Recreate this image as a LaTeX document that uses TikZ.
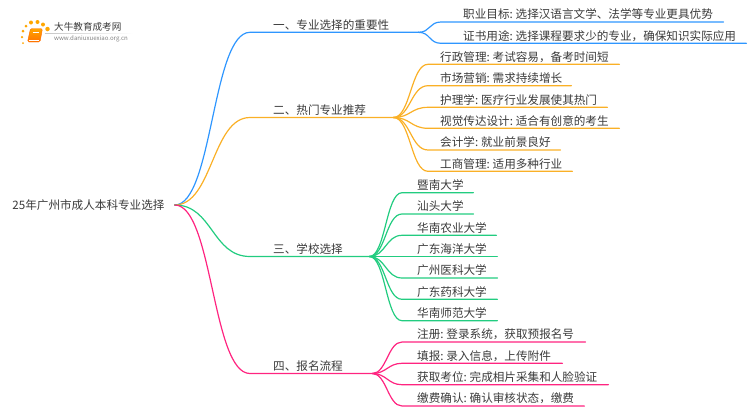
\documentclass[tikz,border=0pt]{standalone}
\usepackage{fontspec}
\setmainfont{Noto Sans CJK SC}
\usepackage{tikz}
\definecolor{branchblue}{HTML}{2E96FF}
\definecolor{branchorange}{HTML}{FAB026}
\definecolor{branchgreen}{HTML}{22CC80}
\definecolor{branchpink}{HTML}{FF2480}
\definecolor{inktext}{HTML}{3A3A3A}
\newcommand{\tightspace}{\spaceskip=2pt\relax}
\tikzset{
  rootnode/.style={font=\fontsize{11.6pt}{14pt}\selectfont,text=inktext,inner xsep=10pt,inner ysep=0pt,
    text height=10pt,text depth=1.2pt},
  topicnode/.style={anchor=south west,font=\fontsize{11.6pt}{14pt}\selectfont,text=inktext,inner sep=0pt,
    text height=10pt,text depth=3pt,align=flush left,text width=#1,execute at begin node=\tightspace},
  topicnode/.default=100pt,
  conn/.style={line width=1.2pt,line cap=round},
  dot/.style={circle,fill=#1,inner sep=0pt,minimum size=4pt},
}
\begin{document}
\begin{tikzpicture}[x=1pt,y=-1pt]
\useasboundingbox (0,0) rectangle (750,410);

% Logo in the corner
\shade[left color=gray!45,right color=white] (45,33) rectangle (133,33.6);
\node[dot=orange!70!yellow,minimum size=2pt] (d1) at (23,43) {};
\node[dot=orange!70!yellow,minimum size=2.5pt] (d2) at (22,37) {};
\node[dot=orange!70!yellow,minimum size=3pt] (d3) at (23,31) {};
\node[dot=orange!70!yellow,minimum size=3pt] (d4) at (26,26) {};
\node[dot=orange!70!yellow] (d5) at (31,22.5) {};
\node[dot=orange!70!yellow] (d6) at (37.5,22) {};
\node[dot=orange!70!yellow] (d7) at (43,24.5) {};
\node[dot=orange!70!yellow,minimum size=4.5pt] (d8) at (47.5,29) {};
\draw[rounded corners=1.5pt,draw=orange!85!red,top color=orange!70!yellow,bottom color=orange!90!red] (30.5,28.5) -- (42.5,28.5) -- (40,42) -- (27.5,42) -- cycle;
\draw[white,line width=0.6pt] (32.5,32) -- (39,32);
\draw[white,line width=0.6pt] (28.8,40) -- (38.5,40);
\node[font=\fontsize{9.6pt}{11pt}\selectfont,text=inktext,inner sep=0pt,anchor=west] (logotitle) at (54,27) {大牛教育成考网};
\node[font=\fontsize{6.1pt}{8pt}\selectfont,text=gray,inner sep=0pt,anchor=west] (logourl) at (54,38.7) {www.daniuxuexiao.org.cn};

% Root
\node[rootnode] (root) at (88.5,205) {25年广州市成人本科专业选择};

% Topics
\node[topicnode=168pt] (topica) at (250,32.3) {\hspace*{23pt}一、专业选择的重要性};
\node[topicnode=143pt] (topicb) at (250,117.5) {\hspace*{23pt}二、热门专业推荐};
\node[topicnode=119pt] (topicc) at (250,256.5) {\hspace*{23pt}三、学校选择};
\node[topicnode=122pt] (topicd) at (250,373.5) {\hspace*{23pt}四、报名流程};

% Root to topics
\draw[conn,branchblue] (root.east) .. controls +(38,0) and +(-38,0) .. (topica.south west) -- (topica.south east);
\draw[conn,branchorange] (root.east) .. controls +(38,0) and +(-38,0) .. (topicb.south west) -- (topicb.south east);
\draw[conn,branchgreen] (root.east) .. controls +(38,0) and +(-38,0) .. (topicc.south west) -- (topicc.south east);
\draw[conn,branchpink] (root.east) .. controls +(38,0) and +(-38,0) .. (topicd.south west) -- (topicd.south east);

% Topic one
\node[topicnode=282pt] (goal) at (441,22) {\hspace*{22pt}职业目标: 选择汉语言文学、法学等专业更具优势};
\node[topicnode=305pt] (cert) at (441,43.3) {\hspace*{22pt}证书用途: 选择课程要求少的专业，确保知识实际应用};
\draw[conn,branchblue] (topica.south east) .. controls +(12,0) and +(-12,0) .. (goal.south west) -- (goal.south east);
\draw[conn,branchblue] (topica.south east) .. controls +(12,0) and +(-12,0) .. (cert.south west) -- (cert.south east);

% Topic two
\node[topicnode=191pt] (admin) at (428,64.3) {\hspace*{12pt}行政管理: 考试容易，备考时间短};
\node[topicnode=143pt] (market) at (428,85.7) {\hspace*{12pt}市场营销: 需求持续增长};
\node[topicnode=179pt] (nurse) at (428,107.3) {\hspace*{12pt}护理学: 医疗行业发展使其热门};
\node[topicnode=191pt] (visual) at (428,128.3) {\hspace*{12pt}视觉传达设计: 适合有创意的考生};
\node[topicnode=132pt] (account) at (428,150) {\hspace*{12pt}会计学: 就业前景良好};
\node[topicnode=144pt] (business) at (428,171.3) {\hspace*{12pt}工商管理: 适用多种行业};
\draw[conn,branchorange] (topicb.south east) .. controls +(17,0) and +(-17,0) .. (admin.south west) -- (admin.south east);
\draw[conn,branchorange] (topicb.south east) .. controls +(17,0) and +(-17,0) .. (market.south west) -- (market.south east);
\draw[conn,branchorange] (topicb.south east) .. controls +(17,0) and +(-17,0) .. (nurse.south west) -- (nurse.south east);
\draw[conn,branchorange] (topicb.south east) .. controls +(17,0) and +(-17,0) .. (visual.south west) -- (visual.south east);
\draw[conn,branchorange] (topicb.south east) .. controls +(17,0) and +(-17,0) .. (account.south west) -- (account.south east);
\draw[conn,branchorange] (topicb.south east) .. controls +(17,0) and +(-17,0) .. (business.south west) -- (business.south east);

% Topic three
\node[topicnode=71pt] (jinan) at (402,192.7) {\hspace*{15pt}暨南大学};
\node[topicnode=71pt] (shantou) at (402,214) {\hspace*{15pt}汕头大学};
\node[topicnode=94pt] (scau) at (402,235.3) {\hspace*{15pt}华南农业大学};
\node[topicnode=95pt] (ocean) at (402,256.5) {\hspace*{15pt}广东海洋大学};
\node[topicnode=95pt] (gzmu) at (402,278) {\hspace*{15pt}广州医科大学};
\node[topicnode=95pt] (pharm) at (402,299.3) {\hspace*{15pt}广东药科大学};
\node[topicnode=95pt] (scnu) at (402,320.7) {\hspace*{15pt}华南师范大学};
\draw[conn,branchgreen] (topicc.south east) .. controls +(16,0) and +(-16,0) .. (jinan.south west) -- (jinan.south east);
\draw[conn,branchgreen] (topicc.south east) .. controls +(16,0) and +(-16,0) .. (shantou.south west) -- (shantou.south east);
\draw[conn,branchgreen] (topicc.south east) .. controls +(16,0) and +(-16,0) .. (scau.south west) -- (scau.south east);
\draw[conn,branchgreen] (topicc.south east) -- (ocean.south west) -- (ocean.south east);
\draw[conn,branchgreen] (topicc.south east) .. controls +(16,0) and +(-16,0) .. (gzmu.south west) -- (gzmu.south east);
\draw[conn,branchgreen] (topicc.south east) .. controls +(16,0) and +(-16,0) .. (pharm.south west) -- (pharm.south east);
\draw[conn,branchgreen] (topicc.south east) .. controls +(16,0) and +(-16,0) .. (scnu.south west) -- (scnu.south east);

% Topic four
\node[topicnode=183pt] (signup) at (402,342) {\hspace*{15pt}注册: 登录系统，获取预报名号};
\node[topicnode=160pt] (fill) at (402,363.3) {\hspace*{15pt}填报: 录入信息，上传附件};
\node[topicnode=206pt] (seat) at (402,384.7) {\hspace*{15pt}获取考位: 完成相片采集和人脸验证};
\node[topicnode=182pt] (pay) at (402,406) {\hspace*{15pt}缴费确认: 确认审核状态，缴费};
\draw[conn,branchpink] (topicd.south east) .. controls +(14,0) and +(-14,0) .. (signup.south west) -- (signup.south east);
\draw[conn,branchpink] (topicd.south east) .. controls +(14,0) and +(-14,0) .. (fill.south west) -- (fill.south east);
\draw[conn,branchpink] (topicd.south east) .. controls +(14,0) and +(-14,0) .. (seat.south west) -- (seat.south east);
\draw[conn,branchpink] (topicd.south east) .. controls +(14,0) and +(-14,0) .. (pay.south west) -- (pay.south east);

\end{tikzpicture}
\end{document}
